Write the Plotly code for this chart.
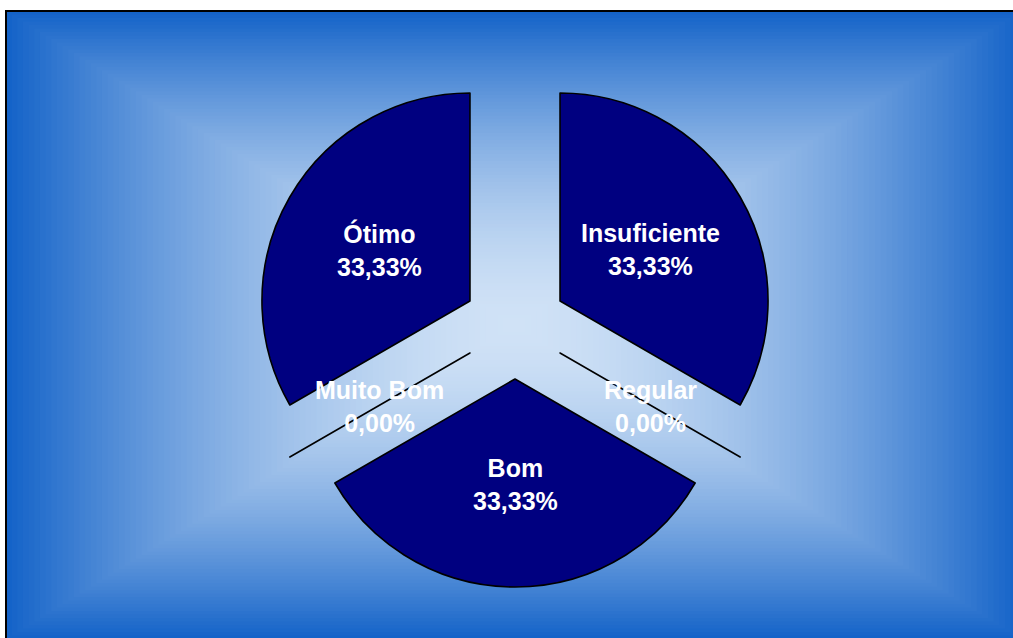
import math
import plotly.graph_objects as go

# Survey result shares (percent), clockwise from 12 o'clock
categories = ["Insuficiente", "Regular", "Bom", "Muito Bom", "Ótimo"]
shares = [33.33, 0.00, 33.33, 0.00, 33.33]

W, H = 1013, 638
PULL = 0.25
SLICE_COLOR = "#000080"

# pie placement in pixels (centre and radius of the un-exploded pie)
CX, CY, R = 515, 327, 208
box = 2 * R * (1 + PULL)
dom_x = [(CX - box / 2) / W, (CX + box / 2) / W]
dom_y = [(H - CY - box / 2) / H, (H - CY + box / 2) / H]

fig = go.Figure()
fig.add_trace(go.Pie(
    labels=categories,
    values=shares,
    sort=False,
    direction="clockwise",
    rotation=0,
    pull=[PULL] * len(shares),
    marker=dict(colors=[SLICE_COLOR] * len(shares), line=dict(color="black", width=1.6)),
    textinfo="none",
    domain=dict(x=dom_x, y=dom_y),
    showlegend=False,
))

# labels: half a radius out along each slice bisector, from the pulled apex
total = sum(shares)
start = 0.0
annotations = []
for name, v in zip(categories, shares):
    mid = (start + v / 2) / total * 2 * math.pi
    start += v
    ux, uy = math.sin(mid), -math.cos(mid)
    ax = CX + PULL * R * ux + 0.5 * R * ux
    ay = CY + PULL * R * uy + 0.5 * R * uy + 1
    txt = f"<b>{name}</b><br><b>{v:.2f}%</b>".replace(".", ",")
    annotations.append(dict(
        x=ax / W, y=1 - ay / H, xref="paper", yref="paper",
        text=txt, showarrow=False, xanchor="center", yanchor="middle",
        font=dict(family="Liberation Sans, Arial, sans-serif", size=25, color="white"),
    ))

# rectangular "from centre" gradient backdrop
GX, GY = 514, 325
HW, HH = 508, 314
c_mid = (208, 226, 246)
c_edge = (20, 99, 200)
N = 90
shapes = []
for i in range(N, 0, -1):
    t = i / N
    k = t ** 1.7
    col = tuple(round(a + (b - a) * k) for a, b in zip(c_mid, c_edge))
    shapes.append(dict(
        type="rect", xref="paper", yref="paper", layer="below",
        x0=(GX - HW * t) / W, x1=(GX + HW * t) / W,
        y0=1 - (GY + HH * t) / H, y1=1 - (GY - HH * t) / H,
        line=dict(width=0), fillcolor="rgb(%d,%d,%d)" % col,
    ))
# chart frame
shapes.append(dict(
    type="rect", xref="paper", yref="paper", layer="below",
    x0=6 / W, x1=(GX + HW + 1) / W, y0=1 - (GY + HH + 1) / H, y1=1 - 11 / H,
    line=dict(color="black", width=2), fillcolor="rgba(0,0,0,0)",
))

fig.update_layout(
    width=W, height=H,
    margin=dict(l=0, r=0, t=0, b=0),
    paper_bgcolor="white",
    plot_bgcolor="rgba(0,0,0,0)",
    shapes=shapes,
    annotations=annotations,
)

fig.write_html("out.html")
